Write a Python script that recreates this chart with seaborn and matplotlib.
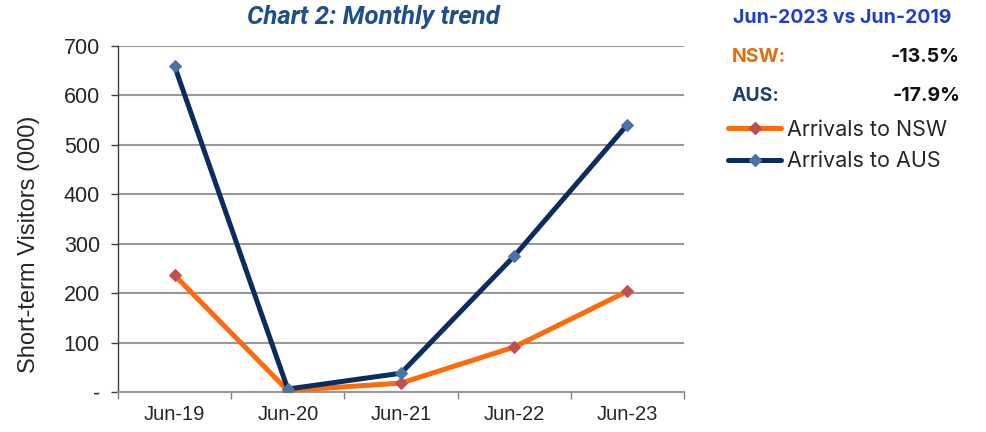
import matplotlib
matplotlib.use("Agg")
import matplotlib.pyplot as plt
import seaborn as sns
import pandas as pd
from matplotlib.lines import Line2D

months = ["Jun-19", "Jun-20", "Jun-21", "Jun-22", "Jun-23"]
nsw = [236, 3, 18, 91, 204]
aus = [659, 6, 38, 275, 541]
yticks = [0, 100, 200, 300, 400, 500, 600, 700]
ytick_labels = ["-", "100", "200", "300", "400", "500", "600", "700"]

NSW_LINE = "#FF6A0A"
NSW_MARK = "#C0504D"
AUS_LINE = "#0B2D5E"
AUS_MARK = "#4A73A8"

sns.set_theme(style="white")
plt.rcParams["font.family"] = ["Liberation Sans", "DejaVu Sans"]

df = pd.DataFrame({"month": months * 2,
                   "value": nsw + aus,
                   "series": ["Arrivals to NSW"] * 5 + ["Arrivals to AUS"] * 5})

fig = plt.figure(figsize=(9.86, 4.32), dpi=100)
ax = fig.add_axes([118 / 986, 1 - 392 / 432, (684 - 118) / 986, (392 - 46) / 432])

for name, lc, mc in [("Arrivals to NSW", NSW_LINE, NSW_MARK), ("Arrivals to AUS", AUS_LINE, AUS_MARK)]:
    sub = df[df["series"] == name]
    sns.lineplot(data=sub, x="month", y="value", ax=ax, color=lc, linewidth=3.6,
                 marker="D", markersize=6, markerfacecolor=mc, markeredgecolor=mc,
                 sort=False, zorder=3)

ax.set_xlim(-0.5, 4.5)
ax.set_ylim(0, 700)
ax.set_yticks(yticks)
ax.set_yticklabels(ytick_labels, fontsize=15.5)
ax.set_xticks(range(len(months)))
ax.set_xticklabels(months, fontsize=14.5)
ax.set_xticks([i - 0.5 for i in range(len(months) + 1)], minor=True)
ax.tick_params(axis="x", which="major", length=0, pad=9)
ax.tick_params(axis="x", which="minor", length=5, color="#808080", width=1, direction="out", bottom=True)
ax.tick_params(axis="y", length=5, color="#404040", width=1, direction="out", left=True, pad=8)
ax.grid(axis="y", color="#999999", linewidth=1.5, zorder=0)
ax.grid(axis="x", visible=False)
for s in ["top", "right"]:
    ax.spines[s].set_visible(False)
ax.spines["left"].set_color("#404040")
ax.spines["left"].set_linewidth(1)
ax.spines["bottom"].set_color("#999999")
ax.spines["bottom"].set_linewidth(1.5)
ax.set_xlabel("")
ax.set_ylabel("Short-term Visitors (000)", fontsize=17)
ax.yaxis.set_label_coords((40 - 118) / 566, (392 - 244) / 346)
if ax.get_legend():
    ax.get_legend().remove()

fig.text(373 / 986, 1 - 17 / 432, "Chart 2: Monthly trend", ha="center", va="center",
         fontsize=18.5, fontweight="bold", style="italic", color="#1F4E8C", family="Roboto")

rt = ["Inter", "DejaVu Sans"]
fig.text(842 / 986, 1 - 18 / 432, "Jun-2023 vs Jun-2019", ha="center", va="center",
         fontsize=14, fontweight="bold", color="#1F3FC8", family=rt)
fig.text(732 / 986, 1 - 57 / 432, "NSW:", ha="left", va="center",
         fontsize=14, fontweight="bold", color="#E46C0A", family=rt)
fig.text(960 / 986, 1 - 57 / 432, "-13.5%", ha="right", va="center",
         fontsize=14, fontweight="bold", color="#111111", family=rt)
fig.text(732 / 986, 1 - 96 / 432, "AUS:", ha="left", va="center",
         fontsize=14, fontweight="bold", color="#1F3F6F", family=rt)
fig.text(960 / 986, 1 - 96 / 432, "-17.9%", ha="right", va="center",
         fontsize=14, fontweight="bold", color="#111111", family=rt)

handles = [Line2D([], [], color=NSW_LINE, linewidth=3.6, marker="D", markersize=6,
                  markerfacecolor=NSW_MARK, markeredgecolor=NSW_MARK),
           Line2D([], [], color=AUS_LINE, linewidth=3.6, marker="D", markersize=6,
                  markerfacecolor=AUS_MARK, markeredgecolor=AUS_MARK)]
fig.legend(handles, ["Arrivals to NSW", "Arrivals to AUS"], loc="upper left",
           bbox_to_anchor=(719 / 986, 1 - 111 / 432), frameon=False,
           handlelength=2.5, handletextpad=0.25, labelspacing=0.55, borderaxespad=0,
           prop={"family": rt, "size": 15.5})

fig.savefig("out.png", dpi=100)
